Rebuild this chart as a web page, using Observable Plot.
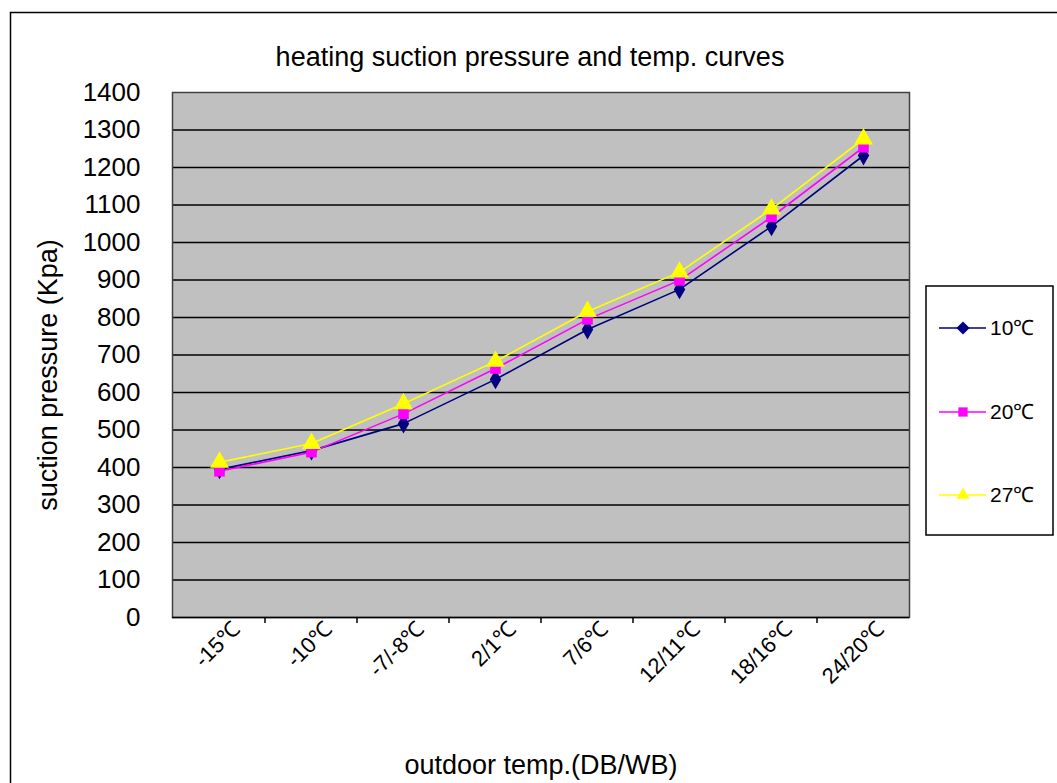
<!DOCTYPE html>
<html>
<head>
<meta charset="utf-8">
<script src="https://cdn.jsdelivr.net/npm/d3@7"></script>
<script src="https://cdn.jsdelivr.net/npm/@observablehq/plot@0.6"></script>
<style>
  html, body { margin: 0; padding: 0; background: #fff; }
  svg { display: block; }
</style>
</head>
<body>
<div id="chart"></div>
<script>
const categories = ["-15℃", "-10℃", "-7/-8℃", "2/1℃", "7/6℃", "12/11℃", "18/16℃", "24/20℃"];
const seriesNames = ["10℃", "20℃", "27℃"];
const values10 = [395, 445, 517, 635, 768, 875, 1043, 1232];
const values20 = [390, 441, 543, 664, 795, 899, 1068, 1254];
const values27 = [414, 464, 570, 683, 816, 921, 1089, 1276];
const yTicks = [0, 100, 200, 300, 400, 500, 600, 700, 800, 900, 1000, 1100, 1200, 1300, 1400];
const titleText = "heating suction pressure and temp. curves";
const xTitle = "outdoor temp.(DB/WB)";
const yTitle = "suction pressure (Kpa)";

const colors = {"10℃": "#000080", "20℃": "#ff00ff", "27℃": "#ffff00"};
const symbols = {"10℃": "diamond", "20℃": "square", "27℃": "triangle"};

const seriesValues = [values10, values20, values27];
const data = [];
seriesNames.forEach((s, i) => categories.forEach((c, j) => data.push({series: s, cat: c, value: seriesValues[i][j]})));

const W = 1057, H = 783;
const mL = 172, mR = 148, mT = 92, mB = 166;
const font = "Liberation Sans, Arial, sans-serif";

const chart = Plot.plot({
  width: W, height: H,
  marginLeft: mL, marginRight: mR, marginTop: mT, marginBottom: mB,
  style: {fontFamily: font, background: "white", overflow: "visible"},
  x: {type: "point", domain: categories, padding: 0.5, align: 0.5},
  y: {domain: [0, 1400]},
  marks: [
    Plot.frame({fill: "#c0c0c0", stroke: null}),
    Plot.ruleY(yTicks.filter(d => d > 0 && d < 1400), {stroke: "black", strokeWidth: 1.6}),
    Plot.frame({stroke: "#404040", strokeWidth: 1.5}),
    Plot.ruleY([0], {stroke: "black", strokeWidth: 1.6}),
    Plot.axisY({ticks: yTicks, tickFormat: d => String(d), tickSize: 0, tickPadding: 32, fontSize: 26, label: null, fill: "black"}),
    Plot.axisX({tickSize: 0, tickRotate: -45, tickPadding: 8, fontSize: 22, label: null, dx: 17, fill: "black"}),
    ...seriesNames.map(s => Plot.line(data.filter(d => d.series === s), {x: "cat", y: "value", stroke: colors[s], strokeWidth: 1.6})),
    ...seriesNames.map(s => Plot.dot(data.filter(d => d.series === s), {x: "cat", y: "value", symbol: symbols[s], fill: colors[s], r: s === "27℃" ? 7 : 6})),
    Plot.text([titleText], {frameAnchor: "top", lineAnchor: "middle", dy: -35, dx: -11, fontSize: 27, fill: "black"}),
    Plot.text([xTitle], {frameAnchor: "bottom", lineAnchor: "middle", dy: 148, fontSize: 27, fill: "black"}),
    Plot.text([yTitle], {frameAnchor: "left", textAnchor: "middle", lineAnchor: "middle", dx: -124, dy: 20, rotate: -90, fontSize: 27, fill: "black"})
  ]
});

const svg = d3.select(chart);
// category boundary ticks on the x axis
const xs = chart.scale("x");
const pos = categories.map(c => xs.apply(c));
const yBase = H - mB;
for (let i = 0; i < pos.length - 1; i++) {
  const xm = (pos[i] + pos[i + 1]) / 2;
  svg.append("line").attr("x1", xm).attr("x2", xm).attr("y1", yBase).attr("y2", yBase + 6)
    .attr("stroke", "black").attr("stroke-width", 1.5);
}
// outer chart frame
svg.append("path").attr("d", `M10.5,${H + 2} V12.5 H${W + 2}`).attr("fill", "none").attr("stroke", "black").attr("stroke-width", 1.5);

// legend
const lg = svg.append("g").attr("font-family", font).attr("text-anchor", "start");
lg.append("rect").attr("x", 926).attr("y", 286).attr("width", 127).attr("height", 249)
  .attr("fill", "white").attr("stroke", "black").attr("stroke-width", 1.5);
const legendY = [328, 412, 495];
seriesNames.forEach((s, i) => {
  const y = legendY[i];
  lg.append("line").attr("x1", 939).attr("x2", 986).attr("y1", y).attr("y2", y).attr("stroke", colors[s]).attr("stroke-width", 1.6);
  lg.append("path").attr("d", d3.symbol(s === "10℃" ? d3.symbolDiamond2 : s === "20℃" ? d3.symbolSquare2 : d3.symbolTriangle2, s === "27℃" ? 120 : 110)()).attr("transform", `translate(963,${y})`).attr("fill", colors[s]);
  lg.append("text").attr("x", 990).attr("y", y).attr("dy", "0.35em").attr("font-size", 21).attr("fill", "black").attr("text-anchor", "start").text(s);
});

document.getElementById("chart").appendChild(chart);
</script>
</body>
</html>
